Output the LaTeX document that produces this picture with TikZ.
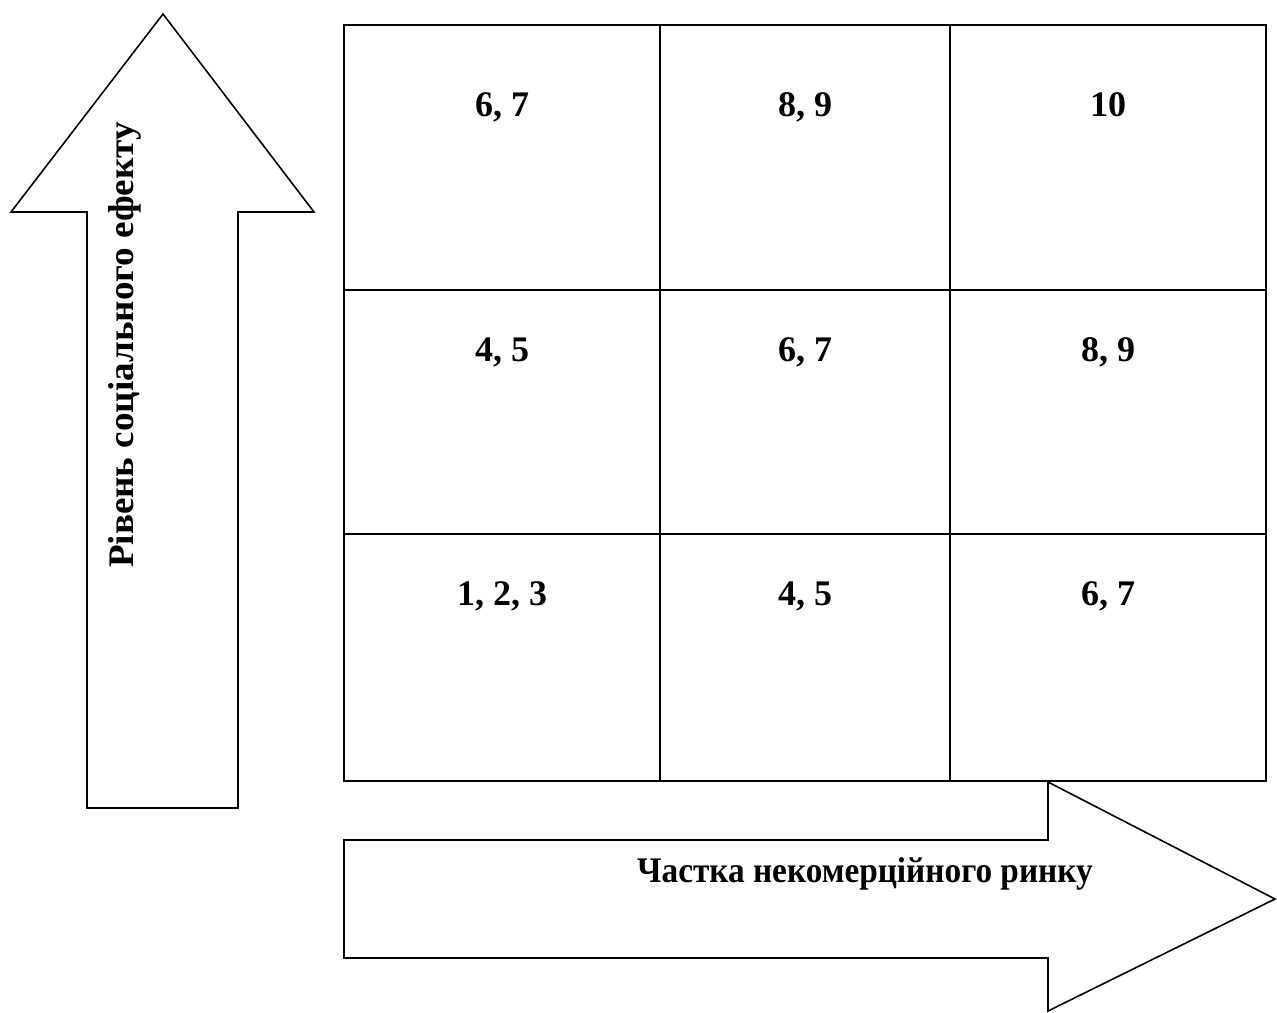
\documentclass[tikz,border=0pt]{standalone}
\usepackage{fontspec}
\setmainfont{Liberation Serif}
\usepackage{tikz}

\tikzset{
  box/.style={draw=black,line width=1.6pt},
  lbl/.style={font=\fontsize{36}{40}\selectfont\bfseries,inner sep=0pt}
}

\begin{document}
\begin{tikzpicture}[x=1pt,y=-1pt]
      \useasboundingbox (0,0) rectangle (1277,1012);

      %向上箭头
      \draw[box,line join=miter] (163,14) -- (314,212) -- (238,212) -- (238,808)
      -- (87,808) -- (87,212) -- (11,212) -- cycle;
      \node[lbl,anchor=base,yscale=1.03,rotate=90] (yaxis) at (133,345) {Рівень соціального ефекту};

      %向右箭头
      \draw[box,line join=miter] (344,840) -- (1048,840) -- (1048,782) -- (1275,899)
      -- (1048,1011) -- (1048,958) -- (344,958) -- cycle;
      \node[lbl,anchor=base,xscale=0.925] (xaxis) at (865,882) {Частка некомерційного ринку};

      %网格
      \draw[box] (344,25) rectangle (1266,781);
      \foreach \x in {660,950}  {
      	\draw[box] (\x,25) -- (\x,781);
      }
      \foreach \y in {290,534}  {
      	\draw[box] (344,\y) -- (1266,\y);
      }

      %格子里的数字
      \foreach \t/\x/\y/\n in {{6, 7}/502/116/a1,{8, 9}/805/116/a2,{10}/1108/116/a3,
      	{4, 5}/502/361/b1,{6, 7}/805/361/b2,{8, 9}/1108/361/b3,
      	{1, 2, 3}/502/605/c1,{4, 5}/805/605/c2,{6, 7}/1108/605/c3}  {
      	\node[lbl,anchor=base] (\n) at (\x,\y) {\t};
      }

\end{tikzpicture}
\end{document}
